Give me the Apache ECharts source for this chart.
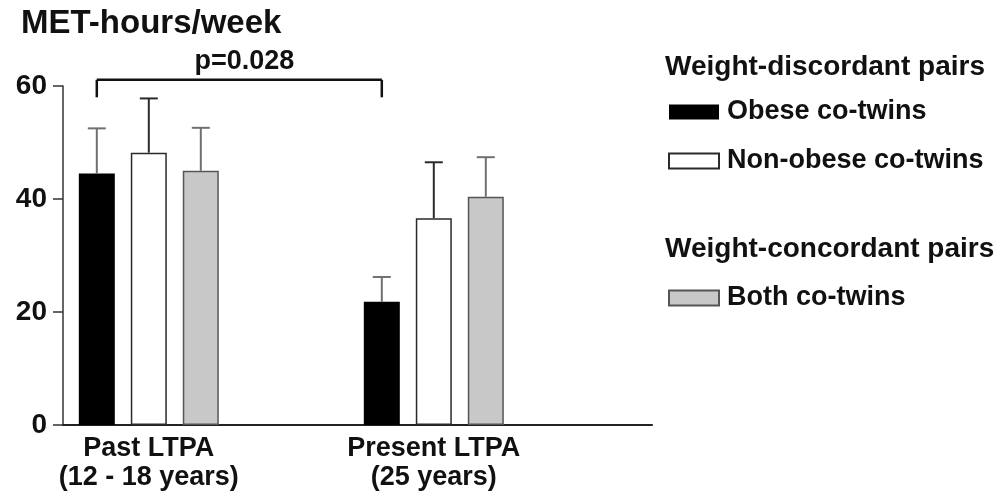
<!DOCTYPE html>
<html>
<head>
<meta charset="utf-8">
<script src="https://cdn.jsdelivr.net/npm/echarts@6/dist/echarts.min.js"></script>
<style>
html,body{margin:0;padding:0;background:#fff;}
#chart{width:1006px;height:499px;}
</style>
</head>
<body>
<div id="chart"></div>
<script>
// ---- data ----
const categories = ['Past LTPA\n(12 - 18 years)', 'Present LTPA\n(25 years)'];
const seriesNames = ['Obese co-twins', 'Non-obese co-twins', 'Both co-twins'];
const obeseMean = [44.5, 21.8];
const obeseUpper = [52.5, 26.2];
const nonObeseMean = [48.2, 36.6];
const nonObeseUpper = [57.8, 46.5];
const bothMean = [45.0, 40.4];
const bothUpper = [52.6, 47.4];
const yMin = 0, yMax = 60, yStep = 20;
const yTitle = 'MET-hours/week';
const pLabel = 'p=0.028';
const bracketLevel = 61.1;      // value of the bracket line
const bracketTickEnd = 58.0;    // value where the bracket ends drop to
const groupHeadings = ['Weight-discordant pairs', 'Weight-concordant pairs'];

// ---- layout / style ----
const FONT = "'Liberation Sans', Arial, sans-serif";
const BAR_W = 36, BAR_GAP = 16;
const STEP = BAR_W + BAR_GAP;
const fills = ['#000000', '#ffffff', '#c8c8c8'];
const borders = ['#000000', '#2a2a2a', '#555555'];
const errColors = ['#707070', '#2a2a2a', '#707070'];

const means = [obeseMean, nonObeseMean, bothMean];
const uppers = [obeseUpper, nonObeseUpper, bothUpper];

const errData = [];
for (let k = 0; k < 3; k++) {
  for (let c = 0; c < categories.length; c++) {
    errData.push([c, k, uppers[k][c], means[k][c]]);
  }
}

const chart = echarts.init(document.getElementById('chart'), null, {renderer: 'canvas'});

const barSeries = seriesNames.map((name, k) => ({
  name: name,
  type: 'bar',
  xAxisIndex: 1,
  yAxisIndex: 1,
  barWidth: BAR_W,
  barGap: (BAR_GAP / BAR_W * 100).toFixed(1) + '%',
  data: means[k],
  itemStyle: {color: fills[k], borderColor: borders[k], borderWidth: k === 0 ? 0 : 1.5},
  emphasis: {disabled: true},
  silent: true,
  z: 2
}));

const legendText = {fontFamily: FONT, fontSize: 27, fontWeight: 'bold', color: '#111', lineHeight: 28, padding: [0, 0, 0, 3]};

const option = {
  animation: false,
  backgroundColor: '#ffffff',
  textStyle: {fontFamily: FONT},
  title: {
    text: yTitle,
    left: 21, top: 7, padding: 0,
    textStyle: {fontFamily: FONT, fontSize: 33, fontWeight: 'bold', color: '#111'}
  },
  grid: [
    {left: 63, top: 86, width: 589, height: 339, containLabel: false},
    {left: 6.3, top: 86, width: 570, height: 339, containLabel: false}
  ],
  xAxis: [
    {gridIndex: 0, type: 'category', data: categories,
     axisLine: {lineStyle: {color: '#222', width: 2}},
     axisTick: {show: false}, axisLabel: {show: false}, splitLine: {show: false}},
    {gridIndex: 1, type: 'category', data: categories,
     axisLine: {show: false}, axisTick: {show: false}, splitLine: {show: false},
     axisLabel: {fontFamily: FONT, fontSize: 27, fontWeight: 'bold', color: '#111', lineHeight: 29, margin: 9}}
  ],
  yAxis: [
    {gridIndex: 0, type: 'value', min: yMin, max: yMax, interval: yStep,
     axisLine: {show: true, lineStyle: {color: '#333', width: 1.5}},
     axisTick: {show: true, length: 10, lineStyle: {color: '#333', width: 1.5}},
     splitLine: {show: false},
     axisLabel: {fontFamily: FONT, fontSize: 28, fontWeight: 'bold', color: '#111', margin: 16}},
    {gridIndex: 1, type: 'value', min: yMin, max: yMax, interval: yStep, show: false, splitLine: {show: false}}
  ],
  legend: [
    {data: seriesNames.slice(0, 2), orient: 'vertical', left: 668, top: 98, padding: 0,
     itemWidth: 50, itemHeight: 15, itemGap: 21, selectedMode: false, icon: 'rect',
     textStyle: legendText},
    {data: seriesNames.slice(2), orient: 'vertical', left: 668, top: 284, padding: 0,
     itemWidth: 50, itemHeight: 15, selectedMode: false, icon: 'rect',
     textStyle: legendText}
  ],
  graphic: [
    {type: 'text', left: 665, top: 53, style: {text: groupHeadings[0], font: 'bold 28px ' + FONT, fill: '#111'}},
    {type: 'text', left: 665, top: 235, style: {text: groupHeadings[1], font: 'bold 28px ' + FONT, fill: '#111'}}
  ],
  series: barSeries.concat([
    {
      type: 'custom',
      name: 'error',
      xAxisIndex: 1, yAxisIndex: 1,
      clip: false, silent: true, z: 3,
      data: errData,
      renderItem: function (params, api) {
        const c = api.value(0), k = api.value(1);
        const top = api.coord([c, api.value(2)]);
        const base = api.coord([c, api.value(3)]);
        const x = base[0] + (k - 1) * STEP;
        const st = {stroke: errColors[k], lineWidth: 2};
        return {type: 'group', children: [
          {type: 'line', shape: {x1: x, y1: base[1], x2: x, y2: top[1]}, style: st},
          {type: 'line', shape: {x1: x - 9, y1: top[1], x2: x + 9, y2: top[1]}, style: st}
        ]};
      }
    },
    {
      type: 'custom',
      name: 'bracket',
      xAxisIndex: 1, yAxisIndex: 1,
      clip: false, silent: true, z: 3,
      data: [[0, 1, bracketLevel, bracketTickEnd]],
      renderItem: function (params, api) {
        const a = api.coord([api.value(0), api.value(2)]);
        const b = api.coord([api.value(1), api.value(2)]);
        const e = api.coord([api.value(0), api.value(3)]);
        const x1 = a[0] - STEP, x2 = b[0] - STEP, y = a[1];
        const st = {stroke: '#111', lineWidth: 2.5};
        return {type: 'group', children: [
          {type: 'line', shape: {x1: x1, y1: y, x2: x2, y2: y}, style: st},
          {type: 'line', shape: {x1: x1, y1: y, x2: x1, y2: e[1]}, style: st},
          {type: 'line', shape: {x1: x2, y1: y, x2: x2, y2: e[1]}, style: st},
          {type: 'text', x: (x1 + x2) / 2 + 5, y: y - 5,
           style: {text: pLabel, font: 'bold 27px ' + FONT, fill: '#111', align: 'center', verticalAlign: 'bottom'}}
        ]};
      }
    }
  ])
};
chart.setOption(option);
</script>
</body>
</html>
